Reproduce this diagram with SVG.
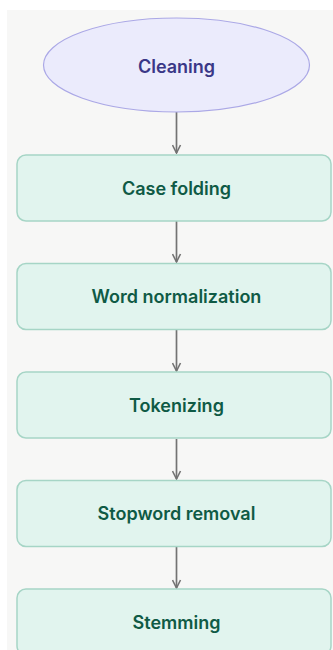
<svg xmlns="http://www.w3.org/2000/svg" width="333" height="650" viewBox="0 0 333 650">
  <style>
    .step rect { fill: #e1f4ee; stroke: #a6d5c6; stroke-width: 1.5; }
    .step text { fill: #0f5a45; }
    .start ellipse { fill: #ebebfc; stroke: #aba8e6; stroke-width: 1.2; }
    .start text { fill: #3a3787; }
    text { font-family: Inter, "Liberation Sans", sans-serif; font-size: 18px; font-weight: 600; text-anchor: middle; dominant-baseline: central; letter-spacing: 0; }
    .flow line { stroke: #737373; stroke-width: 1.7; fill: none; marker-end: url(#arrow); }
  </style>
  <defs>
    <marker id="arrow" viewBox="0 0 10 10" refX="9" refY="5" markerWidth="10" markerHeight="10" markerUnits="userSpaceOnUse" orient="auto">
      <path d="M1,1 L9,5 L1,9" fill="none" stroke="#737373" stroke-width="1.6"/>
    </marker>
  </defs>

  <!-- canvas -->
  <rect x="0" y="0" width="333" height="650" fill="#ffffff"/>
  <rect x="7" y="10" width="326" height="640" fill="#f7f7f6"/>

  <!-- connectors -->
  <g id="connectors" class="flow">
    <line x1="176.5" y1="112" x2="176.5" y2="153"/>
    <line x1="176.5" y1="221" x2="176.5" y2="262"/>
    <line x1="176.5" y1="330" x2="176.5" y2="371"/>
    <line x1="176.5" y1="439" x2="176.5" y2="479"/>
    <line x1="176.5" y1="547" x2="176.5" y2="588"/>
  </g>

  <!-- nodes -->
  <g id="cleaning" class="start">
    <ellipse cx="176.5" cy="65" rx="133" ry="47"/>
    <text x="176.5" y="66">Cleaning</text>
  </g>
  <g id="case-folding" class="step">
    <rect x="17" y="155" width="314" height="66" rx="9"/>
    <text x="176.5" y="188">Case folding</text>
  </g>
  <g id="word-normalization" class="step">
    <rect x="17" y="263.5" width="314" height="66" rx="9"/>
    <text x="176.5" y="296.5">Word normalization</text>
  </g>
  <g id="tokenizing" class="step">
    <rect x="17" y="372" width="314" height="66" rx="9"/>
    <text x="176.5" y="405">Tokenizing</text>
  </g>
  <g id="stopword-removal" class="step">
    <rect x="17" y="480.5" width="314" height="66" rx="9"/>
    <text x="176.5" y="513.5">Stopword removal</text>
  </g>
  <g id="stemming" class="step">
    <rect x="17" y="589" width="314" height="66" rx="9"/>
    <text x="176.5" y="622">Stemming</text>
  </g>
</svg>
